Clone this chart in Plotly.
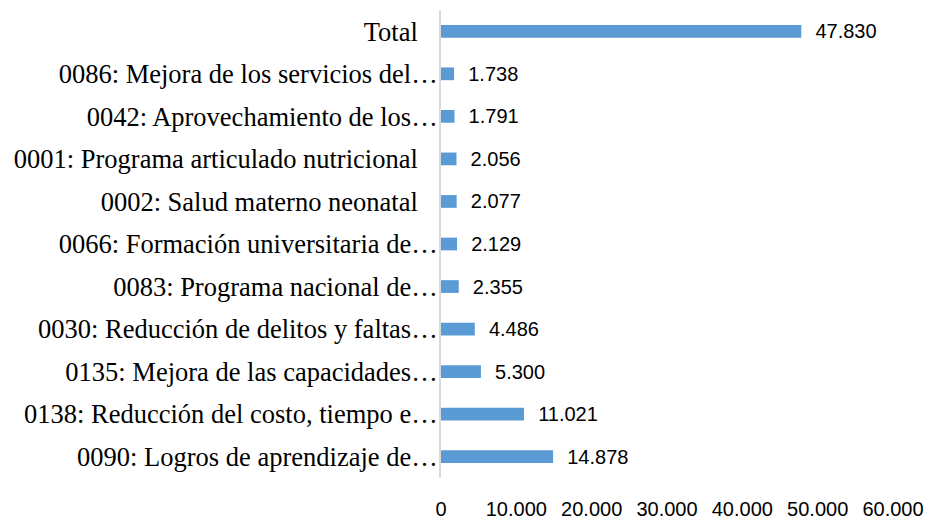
import plotly.graph_objects as go

# Programas presupuestales (de abajo hacia arriba)
programas = [
    "0090: Logros de aprendizaje de…",
    "0138: Reducción del costo, tiempo e…",
    "0135: Mejora de las capacidades…",
    "0030: Reducción de delitos y faltas…",
    "0083: Programa nacional de…",
    "0066: Formación universitaria de…",
    "0002: Salud materno neonatal",
    "0001: Programa articulado nutricional",
    "0042: Aprovechamiento de los…",
    "0086: Mejora de los servicios del…",
    "Total",
]
montos = [14878, 11021, 5300, 4486, 2355, 2129, 2077, 2056, 1791, 1738, 47830]

x_ticks = [0, 10000, 20000, 30000, 40000, 50000, 60000]

# labels that are not cut end a bit further from the axis (as in Excel)
etiquetas = [p if p.endswith("…") else p + "\u00a0\u00a0\u00a0" for p in programas]

fig = go.Figure(go.Bar(
    y=programas,
    x=montos,
    orientation="h",
    width=0.3,
    marker=dict(color="#5b9bd5", line=dict(width=0)),
    texttemplate="\u00a0\u00a0%{x:,d}",
    textposition="outside",
    constraintext="none",
    cliponaxis=False,
    textfont=dict(family="Liberation Sans", size=20, color="#000000"),
))

fig.update_layout(
    width=927,
    height=521,
    margin=dict(l=441, r=34, t=10, b=43),
    plot_bgcolor="white",
    paper_bgcolor="white",
    separators=",.",
    showlegend=False,
    xaxis=dict(
        range=[0, 60000],
        tickvals=x_ticks,
        tickformat=",d",
        showgrid=False,
        zeroline=False,
        showline=False,
        ticks="",
        automargin=False,
        ticklabelstandoff=17,
        tickfont=dict(family="Liberation Sans", size=20, color="#000000"),
    ),
    yaxis=dict(
        type="category",
        tickmode="array",
        tickvals=programas,
        ticktext=etiquetas,
        showgrid=False,
        showline=True,
        linecolor="#d9d9d9",
        linewidth=2,
        ticks="",
        automargin=False,
        ticklabelstandoff=-4,
        tickfont=dict(family="Times New Roman, Liberation Serif, serif", size=26.5, color="#000000"),
    ),
)

# drop the default 8px body margin of the page, no modebar
fig.write_html("out.html", config={"displayModeBar": False},
               post_script="document.body.style.margin='0';")
